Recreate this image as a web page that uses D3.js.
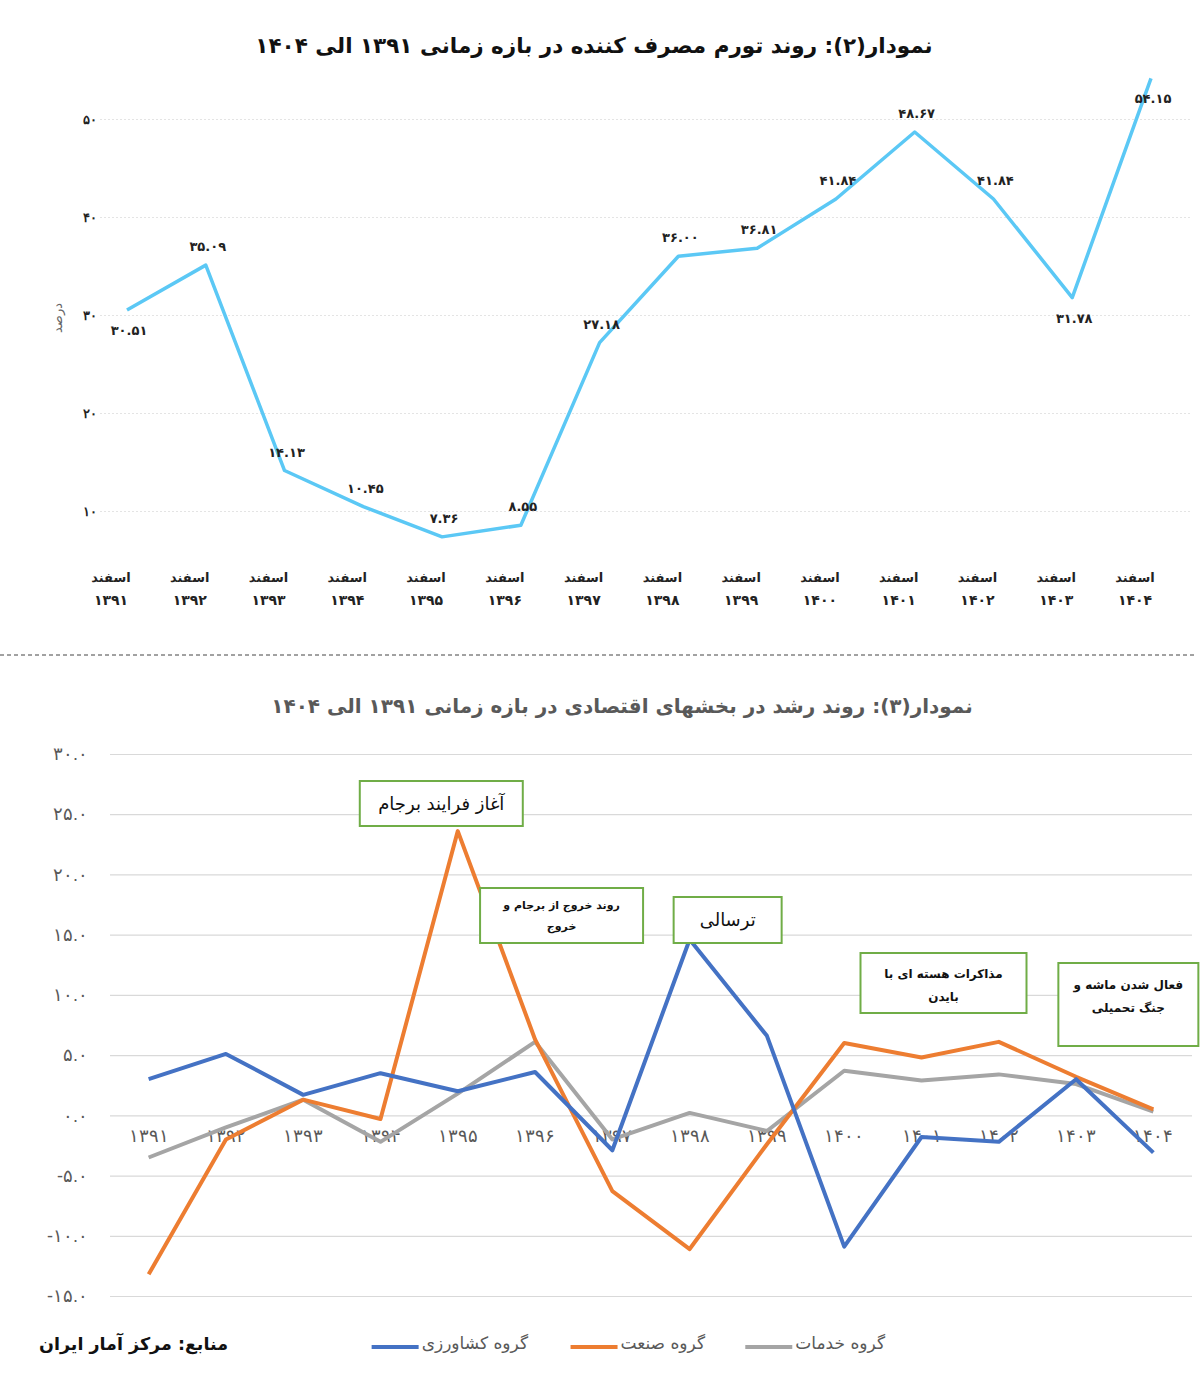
<!DOCTYPE html>
<html>
<head>
<meta charset="utf-8">
<script src="https://cdn.jsdelivr.net/npm/d3@7"></script>
<style>
  body { margin: 0; background: #fff; }
  svg { display: block; font-family: "DejaVu Sans", sans-serif; }
</style>
</head>
<body>
<div id="chart"></div>
<script>
// data
const years = ["1391","1392","1393","1394","1395","1396","1397","1398","1399","1400","1401","1402","1403","1404"];
const inflation = [30.51, 35.09, 14.13, 10.45, 7.36, 8.55, 27.18, 36.00, 36.81, 41.84, 48.67, 41.84, 31.78, 54.15];
const inflationTicks = [10, 20, 30, 40, 50];

const agriculture = [3.0, 5.1, 1.7, 3.5, 2.0, 3.6, -2.9, 14.6, 6.6, -10.9, -1.8, -2.2, 3.0, -3.1];
const industry = [-13.2, -2.0, 1.3, -0.3, 23.6, 6.3, -6.3, -11.1, -2.4, 6.0, 4.8, 6.1, 3.2, 0.5];
const services = [-3.5, -1.0, 1.3, -2.2, 1.8, 6.1, -2.0, 0.2, -1.3, 3.7, 2.9, 3.4, 2.6, 0.3];
const growthTicks = [-15, -10, -5, 0, 5, 10, 15, 20, 25, 30];
const seriesNames = ["گروه کشاورزی", "گروه صنعت", "گروه خدمات"];

const notes = [
  { year: "1395", lines: ["آغاز فرایند برجام"] },
  { year: "1396", lines: ["روند خروج از برجام و", "خروج"] },
  { year: "1398", lines: ["ترسالی"] },
  { year: "1401", lines: ["مذاکرات هسته ای با", "بایدن"] },
  { year: "1404", lines: ["فعال شدن ماشه و", "جنگ  تحمیلی"] }
];

const faDigits = "۰۱۲۳۴۵۶۷۸۹";
const fa = s => String(s).replace(/\d/g, d => faDigits[d]);

const width = 1200, height = 1373;
const svg = d3.select("#chart").append("svg")
  .attr("width", width).attr("height", height);

// ---------- chart 2 : inflation ----------
const topG = svg.append("g");

topG.append("text")
  .attr("x", 594).attr("y", 53)
  .attr("text-anchor", "middle").attr("direction", "rtl")
  .attr("font-size", 21.5).attr("font-weight", "bold").attr("fill", "#111")
  .text(fa("نمودار(2): روند تورم مصرف کننده در بازه زمانی 1391 الی 1404"));

const x1 = d3.scalePoint().domain(years).range([127, 1151]);
const y1 = d3.scaleLinear().domain([10, 50]).range([511, 119]);

const yAxis1 = topG.append("g")
  .attr("transform", "translate(100,0)")
  .call(d3.axisLeft(y1).tickValues(inflationTicks).tickSize(-1090).tickPadding(3).tickFormat(d => fa(d)));
yAxis1.select(".domain").remove();
yAxis1.selectAll("line").attr("stroke", "#e4e4e4").attr("stroke-dasharray", "2,2");
yAxis1.selectAll("text").attr("font-size", 13).attr("font-weight", "bold").attr("fill", "#222");

topG.append("text")
  .attr("transform", "translate(62,318) rotate(-90)")
  .attr("text-anchor", "middle")
  .attr("font-size", 13).attr("fill", "#666")
  .text("درصد");

// x labels
const xl = topG.append("g").selectAll("text")
  .data(years).join("text")
  .attr("text-anchor", "middle")
  .attr("font-size", 13).attr("font-weight", "bold").attr("fill", "#222");
xl.append("tspan").attr("x", d => x1(d) - 16).attr("y", 582).text("اسفند");
xl.append("tspan").attr("x", d => x1(d) - 16).attr("y", 605).attr("font-size", 14).text(d => fa(d));

const pts1 = years.map((d, i) => [x1(d), y1(inflation[i])]);
topG.append("path")
  .attr("d", d3.line()(pts1))
  .attr("fill", "none").attr("stroke", "#5bc8f5").attr("stroke-width", 3.5)
  .attr("stroke-linejoin", "round");

const below = new Set(["1391", "1403", "1404"]);
topG.append("g").selectAll("text")
  .data(years).join("text")
  .attr("x", d => x1(d) + 2)
  .attr("y", (d, i) => y1(inflation[i]) + (below.has(d) ? 25 : -14))
  .attr("text-anchor", "middle")
  .attr("font-size", 13).attr("font-weight", "bold").attr("fill", "#222")
  .text((d, i) => fa(inflation[i].toFixed(2)));

// separator
svg.append("line")
  .attr("x1", 0).attr("x2", 1195).attr("y1", 655).attr("y2", 655)
  .attr("stroke", "#444").attr("stroke-dasharray", "4,3");

// ---------- chart 3 : growth ----------
const bot = svg.append("g");

bot.append("text")
  .attr("x", 622).attr("y", 713)
  .attr("text-anchor", "middle").attr("direction", "rtl")
  .attr("font-size", 20).attr("font-weight", "bold").attr("fill", "#595959")
  .text(fa("نمودار(3): روند رشد در بخشهای اقتصادی در بازه زمانی 1391 الی 1404"));

const x2 = d3.scaleBand().domain(years).range([110, 1192]);
const cx = d => x2(d) + x2.bandwidth() / 2;
const y2 = d3.scaleLinear().domain([-15, 30]).range([1296, 754]);

const yAxis2 = bot.append("g")
  .attr("transform", "translate(110,0)")
  .call(d3.axisLeft(y2).tickValues(growthTicks).tickSize(-1082).tickPadding(22)
    .tickFormat(d => fa(d.toFixed(1))));
yAxis2.select(".domain").remove();
yAxis2.selectAll("line").attr("stroke", "#d9d9d9").attr("stroke-width", 1.2);
yAxis2.selectAll("text").attr("font-size", 18).attr("fill", "#595959").attr("direction", "ltr");

const xAxis2 = bot.append("g")
  .attr("transform", `translate(0,${y2(0)})`)
  .call(d3.axisBottom(x2).tickSize(0).tickPadding(14).tickFormat(d => fa(d)));
xAxis2.select(".domain").remove();
xAxis2.selectAll("text").attr("font-size", 18).attr("fill", "#595959");

const colors = ["#4472c4", "#ed7d31", "#a5a5a5"];
const series = [agriculture, industry, services];
// gray first, then orange, blue on top
[2, 1, 0].forEach(k => {
  bot.append("path")
    .attr("d", d3.line().x((d, i) => cx(years[i])).y(d => y2(d))(series[k]))
    .attr("fill", "none").attr("stroke", colors[k]).attr("stroke-width", 4)
    .attr("stroke-linejoin", "round");
});

// annotation boxes
const boxSpec = {
  "1395": { dx: -98, w: 163, top: 781, h: 45, fs: 18, bold: false, ty: 0 },
  "1396": { dx: -55, w: 163, top: 888, h: 55, fs: 11, bold: true, ty: 0 },
  "1398": { dx: -16, w: 108, top: 897, h: 46, fs: 18, bold: false, ty: 0 },
  "1401": { dx: -61, w: 166, top: 953, h: 60, fs: 12, bold: true, ty: 2 },
  "1404": { dx: -95, w: 140, top: 963, h: 83, fs: 12, bold: true, ty: -8 }
};
notes.forEach(n => {
  const b = boxSpec[n.year];
  const bx = cx(n.year) + b.dx;
  const g = bot.append("g");
  g.append("rect")
    .attr("x", bx).attr("y", b.top).attr("width", b.w).attr("height", b.h)
    .attr("fill", "#fff").attr("stroke", "#70ad47").attr("stroke-width", 2);
  const lh = b.fs * 1.9;
  const y0 = b.top + b.h / 2 + b.ty - (n.lines.length - 1) * lh / 2 + b.fs * 0.35;
  n.lines.forEach((t, j) => {
    g.append("text")
      .attr("x", bx + b.w / 2).attr("y", y0 + j * lh)
      .attr("text-anchor", "middle").attr("direction", "rtl")
      .attr("font-size", b.fs).attr("font-weight", b.bold ? "bold" : "normal")
      .attr("fill", "#111")
      .text(t);
  });
});

// legend (rtl: anchor "start" = right edge)
const legendRight = [528, 705, 885];
seriesNames.forEach((name, k) => {
  const g = bot.append("g");
  g.append("text")
    .attr("x", legendRight[k]).attr("y", 1349)
    .attr("text-anchor", "start").attr("direction", "rtl")
    .attr("font-size", 17).attr("fill", "#595959")
    .text(name)
    .each(function () {
      const bb = this.getBBox();
      g.append("line")
        .attr("x1", bb.x - 50).attr("x2", bb.x - 3)
        .attr("y1", 1347).attr("y2", 1347)
        .attr("stroke", colors[k]).attr("stroke-width", 4);
    });
});

bot.append("text")
  .attr("x", 228).attr("y", 1350)
  .attr("text-anchor", "start").attr("direction", "rtl")
  .attr("font-size", 17.5).attr("font-weight", "bold").attr("fill", "#111")
  .text("منابع: مرکز آمار ایران");
</script>
</body>
</html>
